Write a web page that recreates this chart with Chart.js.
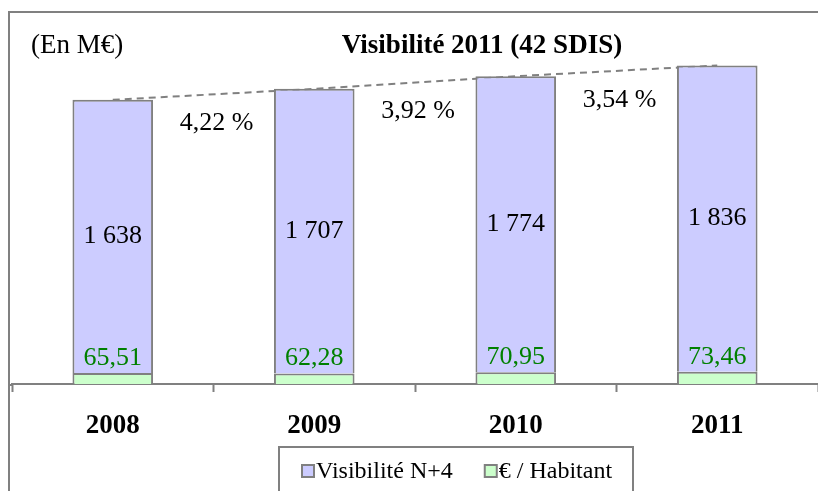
<!DOCTYPE html>
<html>
<head>
<meta charset="utf-8">
<script src="https://cdn.jsdelivr.net/npm/chart.js@4"></script>
<style>
  html, body { margin: 0; padding: 0; background: #fff; }
  canvas { display: block; }
</style>
</head>
<body>
<canvas id="chart" width="818" height="491"></canvas>
<script>
const years = ['2008', '2009', '2010', '2011'];
const visibilite = [1638, 1707, 1774, 1836];
const parHabitant = [65.51, 62.28, 70.95, 73.46];
const growthLabels = ['4,22 %', '3,92 %', '3,54 %'];
const chartTitle = 'Visibilité 2011 (42 SDIS)';
const unitLabel = '(En M€)';

const totals = visibilite.map((v, i) => v + parHabitant[i]);

const GRAY = '#808080';
const SERIF = '"Liberation Serif", "DejaVu Serif", serif';

function fmtThousands(v) {
  return String(v).replace(/\B(?=(\d{3})+(?!\d))/g, ' ');
}
function fmtDecimal(v) {
  return v.toFixed(2).replace('.', ',');
}

const decor = {
  id: 'decor',
  beforeDraw(chart) {
    const ctx = chart.ctx;
    ctx.save();
    ctx.strokeStyle = GRAY;
    ctx.lineWidth = 2;
    ctx.strokeRect(9, 12, 830, 500);
    ctx.restore();
  },
  afterDraw(chart) {
    const ctx = chart.ctx;
    const area = chart.chartArea;
    const blue = chart.getDatasetMeta(1).data;
    const green = chart.getDatasetMeta(0).data;
    const line = chart.getDatasetMeta(2).data;
    ctx.save();

    // axis line runs up to the frame
    ctx.strokeStyle = GRAY;
    ctx.lineWidth = 2;
    ctx.beginPath();
    ctx.moveTo(9, area.bottom + 1);
    ctx.lineTo(area.left, area.bottom + 1);
    ctx.stroke();

    // title + unit
    ctx.fillStyle = '#000';
    ctx.textBaseline = 'middle';
    ctx.textAlign = 'center';
    ctx.font = 'bold 27px ' + SERIF;
    ctx.fillText(chartTitle, 482, 46);
    ctx.textAlign = 'left';
    ctx.font = '27px ' + SERIF;
    ctx.fillText(unitLabel, 31, 46);

    // values in blue segments
    ctx.textAlign = 'center';
    ctx.font = '26px ' + SERIF;
    blue.forEach((bar, i) => {
      ctx.fillText(fmtThousands(visibilite[i]), bar.x, (bar.y + bar.base) / 2);
    });

    // € / habitant values
    ctx.fillStyle = '#008000';
    ctx.font = '26px ' + SERIF;
    green.forEach((bar, i) => {
      ctx.fillText(fmtDecimal(parHabitant[i]), bar.x, bar.y - 15);
    });

    // growth rates
    ctx.fillStyle = '#000';
    ctx.font = '26px ' + SERIF;
    growthLabels.forEach((t, i) => {
      const a = line[i], b = line[i + 1];
      ctx.fillText(t, (a.x + b.x) / 2 + 3, (a.y + b.y) / 2 + 29);
    });

    // legend
    ctx.strokeStyle = GRAY;
    ctx.lineWidth = 2;
    ctx.strokeRect(279, 447, 354, 60);
    const items = [chart.data.datasets[1], chart.data.datasets[0]];
    let x = 302;
    ctx.font = '24px ' + SERIF;
    ctx.textAlign = 'left';
    items.forEach(ds => {
      ctx.fillStyle = ds.backgroundColor;
      ctx.fillRect(x, 465, 12, 12);
      ctx.strokeRect(x, 465, 12, 12);
      ctx.fillStyle = '#000';
      ctx.fillText(ds.label, x + 14, 472);
      x += 14 + ctx.measureText(ds.label).width + 32;
    });
    ctx.restore();
  }
};

new Chart(document.getElementById('chart'), {
  type: 'bar',
  data: {
    labels: years,
    datasets: [
      {
        label: '€ / Habitant',
        data: parHabitant,
        stack: 'a',
        backgroundColor: '#CCFFCC',
        borderColor: GRAY,
        borderWidth: 2,
        categoryPercentage: 0.4,
        barPercentage: 1
      },
      {
        label: 'Visibilité N+4',
        data: visibilite,
        stack: 'a',
        backgroundColor: '#CCCCFF',
        borderColor: GRAY,
        borderWidth: 2,
        categoryPercentage: 0.4,
        barPercentage: 1
      },
      {
        type: 'line',
        label: 'total',
        data: totals,
        stack: 'b',
        borderColor: GRAY,
        borderWidth: 2,
        borderDash: [7, 5],
        pointRadius: 0,
        fill: false
      }
    ]
  },
  options: {
    responsive: false,
    animation: false,
    layout: { padding: { left: 12, right: 0, top: 17, bottom: 0 } },
    plugins: {
      legend: { display: false },
      tooltip: { enabled: false }
    },
    scales: {
      x: {
        stacked: true,
        afterFit(scale) { scale.height = 107; },
        grid: {
          display: true,
          drawOnChartArea: false,
          drawTicks: true,
          tickLength: 8,
          tickWidth: 2,
          tickColor: GRAY
        },
        border: { display: true, color: GRAY, width: 2 },
        ticks: {
          color: '#000',
          padding: 18,
          font: { family: SERIF, size: 27, weight: 'bold' }
        }
      },
      y: {
        display: false,
        stacked: true,
        min: 0,
        max: 2200
      }
    }
  },
  plugins: [decor]
});
</script>
</body>
</html>
